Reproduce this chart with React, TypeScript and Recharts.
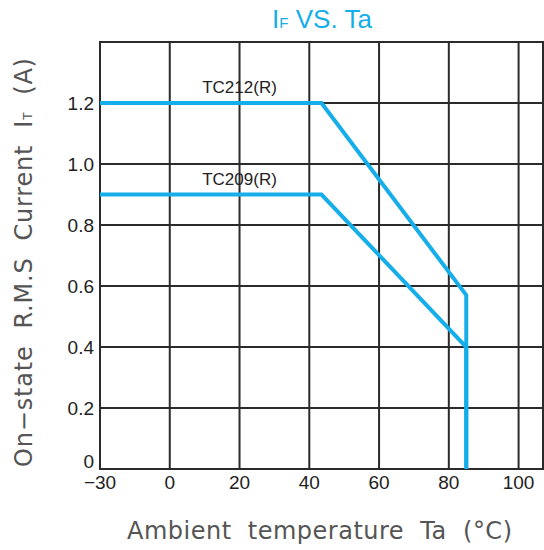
import React from "react";
import {
  LineChart,
  Line,
  XAxis,
  YAxis,
  CartesianGrid,
  ReferenceArea,
  ReferenceDot,
} from "recharts";

// derating curves, temperature in degrees C, current in A
const ambientTemp = [-30, 43.5, 85, 85];
const tc212Current = [1.2, 1.2, 0.57, 0];
const tc209Current = [0.9, 0.9, 0.4, 0];

// axis ticks
const xTickTemps = [-30, 0, 20, 40, 60, 80, 100];
const yTicks = [0, 0.2, 0.4, 0.6, 0.8, 1.0, 1.2];
const xMax = 107;
const yMax = 1.4;

const LINE_COLOR = "#15aeea";
const GRID_COLOR = "#2b2b2b";
const TICK_FONT = "Arial, 'Liberation Sans', sans-serif";
const TITLE_FONT = "'DejaVu Sans', sans-serif";

// the -30..0 column is drawn as wide as a 20 degree column
const toAxis = (t: number): number => (t < 0 ? (t * 20) / 30 : t);
const fromAxis = (u: number): number => (u < 0 ? Math.round((u * 30) / 20) : u);

const tc212Data = ambientTemp.map((t, i) => ({ u: toAxis(t), current: tc212Current[i] }));
const tc209Data = ambientTemp.map((t, i) => ({ u: toAxis(t), current: tc209Current[i] }));

const XTick = (props: any) => {
  const { x, y, payload } = props;
  const t = fromAxis(payload.value);
  return (
    <text x={x} y={y} dy={20} textAnchor="middle" fill="#222" fontSize={19} fontFamily={TICK_FONT}>
      {t < 0 ? `\u2212${Math.abs(t)}` : t}
    </text>
  );
};

const YTick = (props: any) => {
  const { x, y, payload } = props;
  const v = payload.value;
  return (
    <text
      x={x}
      y={y}
      dy={v === 0 ? -1 : 7}
      textAnchor="end"
      fill="#222"
      fontSize={19}
      fontFamily={TICK_FONT}
    >
      {v === 0 ? "0" : v.toFixed(1)}
    </text>
  );
};

const App: React.FC = () => {
  return (
    <div style={{ position: "relative", width: 544, height: 550, background: "#fff" }}>
      <style>{`body{margin:0}`}</style>
      <LineChart width={544} height={550} margin={{ top: 42, right: 1, bottom: 51, left: 0 }}>
        <CartesianGrid stroke={GRID_COLOR} strokeWidth={2} />
        <XAxis
          type="number"
          dataKey="u"
          domain={[toAxis(-30), xMax]}
          ticks={xTickTemps.map(toAxis)}
          height={30}
          axisLine={false}
          tickLine={false}
          tickSize={0}
          tickMargin={0}
          tick={<XTick />}
          interval={0}
        />
        <YAxis
          type="number"
          domain={[0, yMax]}
          ticks={yTicks}
          width={100}
          axisLine={false}
          tickLine={false}
          tickSize={0}
          tickMargin={6}
          tick={<YTick />}
          interval={0}
        />
        <ReferenceArea
          x1={toAxis(-30)}
          x2={xMax}
          y1={0}
          y2={yMax}
          fill="none"
          fillOpacity={0}
          stroke={GRID_COLOR}
          strokeWidth={2}
          ifOverflow="visible"
        />
        <Line
          data={tc212Data}
          dataKey="current"
          stroke={LINE_COLOR}
          strokeWidth={4}
          dot={false}
          isAnimationActive={false}
        />
        <Line
          data={tc209Data}
          dataKey="current"
          stroke={LINE_COLOR}
          strokeWidth={4}
          dot={false}
          isAnimationActive={false}
        />
        <ReferenceDot
          x={20}
          y={1.2}
          r={0}
          fill="none"
          stroke="none"
          label={{ value: "TC212(R)", position: "top", offset: 10, fill: "#222", fontSize: 17, fontFamily: TICK_FONT }}
        />
        <ReferenceDot
          x={20}
          y={0.9}
          r={0}
          fill="none"
          stroke="none"
          label={{ value: "TC209(R)", position: "top", offset: 10, fill: "#222", fontSize: 17, fontFamily: TICK_FONT }}
        />
      </LineChart>
      <svg
        width={544}
        height={550}
        style={{ position: "absolute", left: 0, top: 0, pointerEvents: "none" }}
      >
        <text x={322} y={28} textAnchor="middle" fill={LINE_COLOR} fontSize={26} fontFamily={TICK_FONT}>
          I<tspan fontSize={15}>F</tspan> VS. Ta
        </text>
        <text
          x={127}
          y={539}
          textLength={385}
          lengthAdjust="spacing"
          fill="#555"
          fontSize={24}
          fontFamily={TITLE_FONT}
          style={{ whiteSpace: "pre" }}
        >
          {"Ambient  temperature  Ta  (\u00b0C)"}
        </text>
        <text
          transform="translate(32,467) rotate(-90)"
          x={0}
          y={0}
          textLength={409}
          lengthAdjust="spacing"
          fill="#555"
          fontSize={24}
          fontFamily={TITLE_FONT}
          style={{ whiteSpace: "pre" }}
        >
          {"On\u2212state  R.M.S  Current  I"}
          <tspan fontSize={12}>T</tspan>
          {"  (A)"}
        </text>
      </svg>
    </div>
  );
};

export default App;
